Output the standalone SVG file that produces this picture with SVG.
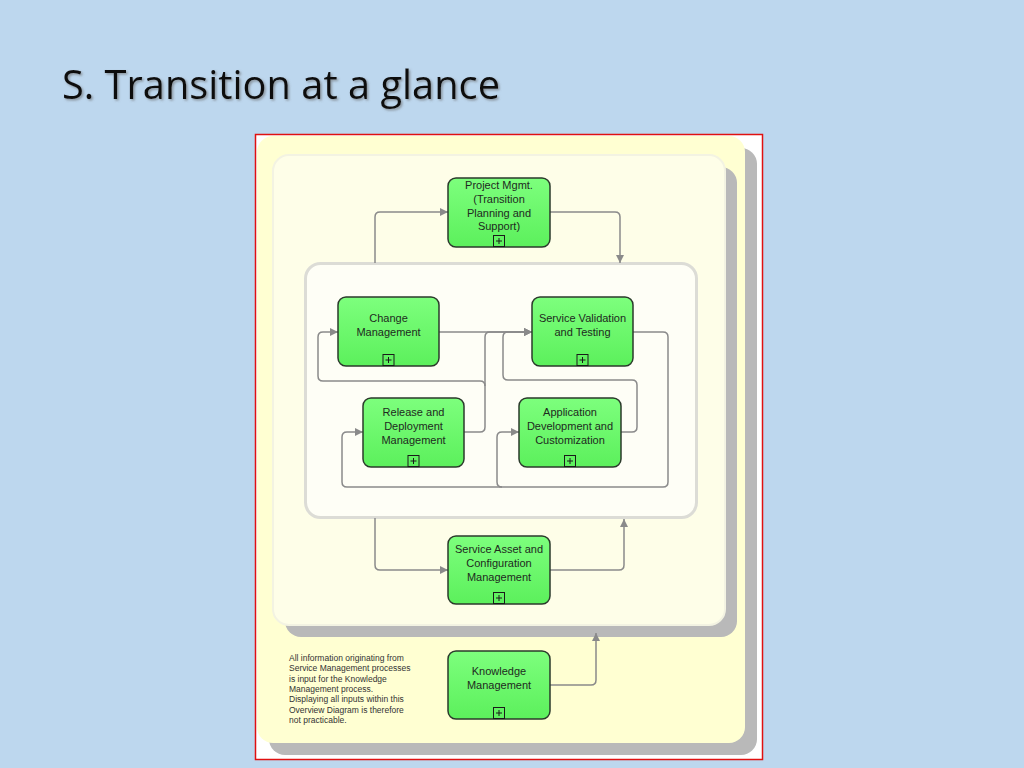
<svg xmlns="http://www.w3.org/2000/svg" width="1024" height="768" viewBox="0 0 1024 768">
<defs>
<marker id="arr" viewBox="0 0 10 10" refX="10" refY="5" markerWidth="8" markerHeight="8" markerUnits="userSpaceOnUse" orient="auto">
<path d="M0,0 L10,5 L0,10 Z" fill="#8a8a8a"/>
</marker>
<linearGradient id="g" x1="0" y1="0" x2="0" y2="1">
<stop offset="0" stop-color="#7dff7d"/>
<stop offset="1" stop-color="#5cf05c"/>
</linearGradient>
<filter id="ts" x="-5%" y="-20%" width="110%" height="150%">
<feDropShadow dx="1.5" dy="1.5" stdDeviation="1" flood-color="#666" flood-opacity="0.6"/>
</filter>
</defs>
<style>
.node rect.b{fill:url(#g);stroke:#2b3a2b;stroke-width:1.5}
.node text{font-family:"Liberation Sans",Arial,sans-serif;font-size:11px;fill:#1e2a1e;text-anchor:middle}
.plus rect{fill:none;stroke:#1a1a1a;stroke-width:1}
.plus path{stroke:#1a1a1a;stroke-width:1}
#connectors path{fill:none;stroke:#8a8a8a;stroke-width:1.5}
.note{font-family:"Liberation Sans",Arial,sans-serif;font-size:8.5px;fill:#333}
</style>
<rect x="0" y="0" width="1024" height="768" fill="#bdd7ee"/>
<text x="62" y="99" font-family="'Open Sans','Liberation Sans',sans-serif" font-size="41" fill="#111" textLength="438" lengthAdjust="spacingAndGlyphs" filter="url(#ts)">S. Transition at a glance</text>
<g id="frame">
<rect x="255.5" y="134.5" width="507" height="625" fill="#ffffff" stroke="#e01010" stroke-width="1.5"/>
<rect x="269" y="148" width="488" height="607" rx="16" fill="#b9b9b9"/>
<rect x="257" y="136" width="488" height="607" rx="16" fill="#ffffd2"/>
<rect x="285" y="167" width="452" height="470" rx="16" fill="#b9b9b9"/>
<rect x="273" y="155" width="452" height="470" rx="16" fill="#fefee8" stroke="#f3f3e2" stroke-width="2"/>
<rect x="305.5" y="263.5" width="391" height="254" rx="15" fill="#fefef6" stroke="#dcdcd6" stroke-width="3"/>
</g>
<g id="connectors">
<path d="M375,263 V217 Q375,212 380,212 H448" marker-end="url(#arr)"/>
<path d="M550,212 H615 Q620,212 620,217 V263" marker-end="url(#arr)"/>
<path d="M439,332 H532" marker-end="url(#arr)"/>
<path d="M464,432 H480 Q485,432 485,427 V337 Q485,332 490,332 H532" marker-end="url(#arr)"/>
<path d="M485,386 Q485,381 480,381 H323 Q318,381 318,376 V337 Q318,332 323,332 H338" marker-end="url(#arr)"/>
<path d="M621,432 H632 Q637,432 637,427 V385 Q637,380 632,380 H508 Q503,380 503,375 V337 Q503,332 508,332 H532" marker-end="url(#arr)"/>
<path d="M633,332 H663 Q668,332 668,337 V482 Q668,487 663,487 H347 Q342,487 342,482 V437 Q342,432 347,432 H363" marker-end="url(#arr)"/>
<path d="M502,487 Q497,487 497,482 V437 Q497,432 502,432 H519" marker-end="url(#arr)"/>
<path d="M375,518 V565 Q375,570 380,570 H448" marker-end="url(#arr)"/>
<path d="M550,570 H619 Q624,570 624,565 V519" marker-end="url(#arr)"/>
<path d="M550,685 H591 Q596,685 596,680 V633" marker-end="url(#arr)"/>
</g>
<g id="project-mgmt" class="node">
<rect class="b" x="448" y="178" width="102" height="69" rx="8"/>
<text x="499" y="189">Project Mgmt.</text>
<text x="499" y="203">(Transition</text>
<text x="499" y="216.5">Planning and</text>
<text x="499" y="230">Support)</text>
<g class="plus"><rect x="493.5" y="235.5" width="11" height="11"/><path d="M496,241 H502 M499,238 V244"/></g>
</g>
<g id="change-mgmt" class="node">
<rect class="b" x="338" y="297" width="101" height="69" rx="8"/>
<text x="388.5" y="322">Change</text>
<text x="388.5" y="336">Management</text>
<g class="plus"><rect x="383" y="354.5" width="11" height="11"/><path d="M385.5,360 H391.5 M388.5,357 V363"/></g>
</g>
<g id="service-validation" class="node">
<rect class="b" x="532" y="297" width="101" height="69" rx="8"/>
<text x="582.5" y="322">Service Validation</text>
<text x="582.5" y="336">and Testing</text>
<g class="plus"><rect x="577" y="354.5" width="11" height="11"/><path d="M579.5,360 H585.5 M582.5,357 V363"/></g>
</g>
<g id="release-deployment" class="node">
<rect class="b" x="363" y="398" width="101" height="69" rx="8"/>
<text x="413.5" y="416">Release and</text>
<text x="413.5" y="430">Deployment</text>
<text x="413.5" y="444">Management</text>
<g class="plus"><rect x="408" y="455.5" width="11" height="11"/><path d="M410.5,461 H416.5 M413.5,458 V464"/></g>
</g>
<g id="app-development" class="node">
<rect class="b" x="519" y="398" width="102" height="69" rx="8"/>
<text x="570" y="416">Application</text>
<text x="570" y="430">Development and</text>
<text x="570" y="444">Customization</text>
<g class="plus"><rect x="564.5" y="455.5" width="11" height="11"/><path d="M567,461 H573 M570,458 V464"/></g>
</g>
<g id="service-asset" class="node">
<rect class="b" x="448" y="536" width="102" height="68" rx="8"/>
<text x="499" y="553">Service Asset and</text>
<text x="499" y="567">Configuration</text>
<text x="499" y="581">Management</text>
<g class="plus"><rect x="493.5" y="592.5" width="11" height="11"/><path d="M496,598 H502 M499,595 V601"/></g>
</g>
<g id="knowledge-mgmt" class="node">
<rect class="b" x="448" y="651" width="102" height="68" rx="8"/>
<text x="499" y="675">Knowledge</text>
<text x="499" y="689">Management</text>
<g class="plus"><rect x="493.5" y="707.5" width="11" height="11"/><path d="M496,713 H502 M499,710 V716"/></g>
</g>
<g id="note">
<text class="note" x="289" y="661">All information originating from</text>
<text class="note" x="289" y="671.3">Service Management processes</text>
<text class="note" x="289" y="681.6">is input for the Knowledge</text>
<text class="note" x="289" y="691.9">Management process.</text>
<text class="note" x="289" y="702.2">Displaying all inputs within this</text>
<text class="note" x="289" y="712.5">Overview Diagram is therefore</text>
<text class="note" x="289" y="722.8">not practicable.</text>
</g>
</svg>
